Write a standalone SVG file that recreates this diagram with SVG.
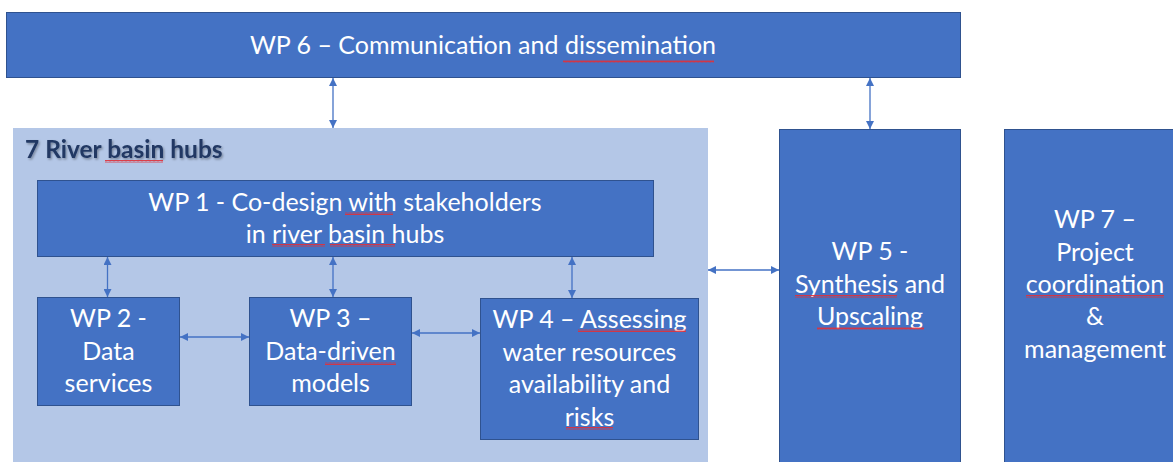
<svg xmlns="http://www.w3.org/2000/svg" width="1173" height="462" viewBox="0 0 1173 462">
  <style>
    .box { fill: #4472C4; stroke: #2F528F; stroke-width: 1; }
    .hub { fill: #B4C7E7; }
    .lbl { font-family: Lato, "Open Sans", "Liberation Sans", sans-serif; font-size: 25px; fill: #FFFFFF; text-anchor: middle; }
    .title { font-family: Lato, "Open Sans", "Liberation Sans", sans-serif; font-size: 24.5px; font-weight: bold; fill: #203864; }
    .link { stroke: #4472C4; stroke-width: 1.3; fill: none; marker-start: url(#head); marker-end: url(#head); }
    .spell { fill: url(#squiggle); }
  </style>
  <defs>
    <marker id="head" viewBox="0 0 10 10" refX="10" refY="5" markerWidth="8" markerHeight="8" markerUnits="userSpaceOnUse" orient="auto-start-reverse">
      <path d="M0,0 L10,5 L0,10 z" fill="#4472C4"/>
    </marker>
    <pattern id="squiggle" x="0" y="0" width="4" height="3" patternUnits="userSpaceOnUse">
      <path d="M0,2.5 L1,0.5 L2,2.5 L3,0.5 L4,2.5" stroke="#E0303A" stroke-width="0.9" fill="none"/>
    </pattern>
    <filter id="shadow" x="-10%" y="-30%" width="130%" height="170%">
      <feDropShadow dx="1.2" dy="1.5" stdDeviation="1" flood-color="#000000" flood-opacity="0.35"/>
    </filter>
  </defs>

  <!-- communication work package across the top -->
  <g id="wp6">
    <rect class="box" x="6.5" y="12.5" width="954" height="65"/>
    <text class="lbl" x="483" y="54">WP 6 – Communication and dissemination</text>
    <rect class="spell" x="563" y="60" width="151" height="3"/>
  </g>

  <!-- river basin hub container -->
  <g id="hubs">
    <rect class="hub" x="13" y="128" width="695" height="340"/>
    <text class="title" x="25" y="158" filter="url(#shadow)">7 River basin hubs</text>
    <rect class="spell" x="105" y="160" width="58" height="3"/>
  </g>

  <g id="wp1">
    <rect class="box" x="37.5" y="180.5" width="616" height="76"/>
    <text class="lbl" x="345" y="211">WP 1 - Co-design with stakeholders</text>
    <text class="lbl" x="345" y="243">in river basin hubs</text>
    <rect class="spell" x="345" y="212" width="48" height="3"/>
    <rect class="spell" x="272" y="244" width="53" height="3"/>
    <rect class="spell" x="330" y="244" width="65" height="3"/>
  </g>

  <g id="wp2">
    <rect class="box" x="37.5" y="297.5" width="142" height="108"/>
    <text class="lbl" x="108.5" y="327">WP 2 -</text>
    <text class="lbl" x="108.5" y="360">Data</text>
    <text class="lbl" x="108.5" y="392">services</text>
  </g>

  <g id="wp3">
    <rect class="box" x="249.5" y="297.5" width="162" height="108"/>
    <text class="lbl" x="330.5" y="327">WP 3 –</text>
    <text class="lbl" x="330.5" y="360">Data-driven</text>
    <text class="lbl" x="330.5" y="392">models</text>
    <rect class="spell" x="325" y="362" width="71" height="3"/>
  </g>

  <g id="wp4">
    <rect class="box" x="480.5" y="298.5" width="218" height="141"/>
    <text class="lbl" x="589.5" y="328">WP 4 – Assessing</text>
    <text class="lbl" x="589.5" y="361">water resources</text>
    <text class="lbl" x="589.5" y="393">availability and</text>
    <text class="lbl" x="589.5" y="426">risks</text>
    <rect class="spell" x="578" y="329" width="108" height="3"/>
    <rect class="spell" x="566" y="427" width="47" height="3"/>
  </g>

  <g id="wp5">
    <rect class="box" x="779.5" y="129.5" width="181" height="340"/>
    <text class="lbl" x="870" y="260">WP 5 -</text>
    <text class="lbl" x="870" y="293">Synthesis and</text>
    <text class="lbl" x="870" y="325">Upscaling</text>
    <rect class="spell" x="795" y="295" width="102" height="3"/>
    <rect class="spell" x="817" y="327" width="107" height="3"/>
  </g>

  <g id="wp7">
    <rect class="box" x="1004.5" y="129.5" width="200" height="340"/>
    <text class="lbl" x="1095" y="228">WP 7 –</text>
    <text class="lbl" x="1095" y="261">Project</text>
    <text class="lbl" x="1095" y="293">coordination</text>
    <text class="lbl" x="1095" y="325">&amp;</text>
    <text class="lbl" x="1095" y="358">management</text>
    <rect class="spell" x="1026" y="295" width="138" height="3"/>
  </g>

  <!-- two-way links between work packages -->
  <g id="connectors">
    <line class="link" x1="333" y1="78" x2="333" y2="128"/>
    <line class="link" x1="870" y1="78" x2="870" y2="129"/>
    <line class="link" x1="708" y1="270" x2="779" y2="270"/>
    <line class="link" x1="107.5" y1="257" x2="107.5" y2="297"/>
    <line class="link" x1="333" y1="257" x2="333" y2="297"/>
    <line class="link" x1="572" y1="257" x2="572" y2="298"/>
    <line class="link" x1="180" y1="337" x2="249" y2="337"/>
    <line class="link" x1="412" y1="333" x2="480" y2="333"/>
  </g>
</svg>
